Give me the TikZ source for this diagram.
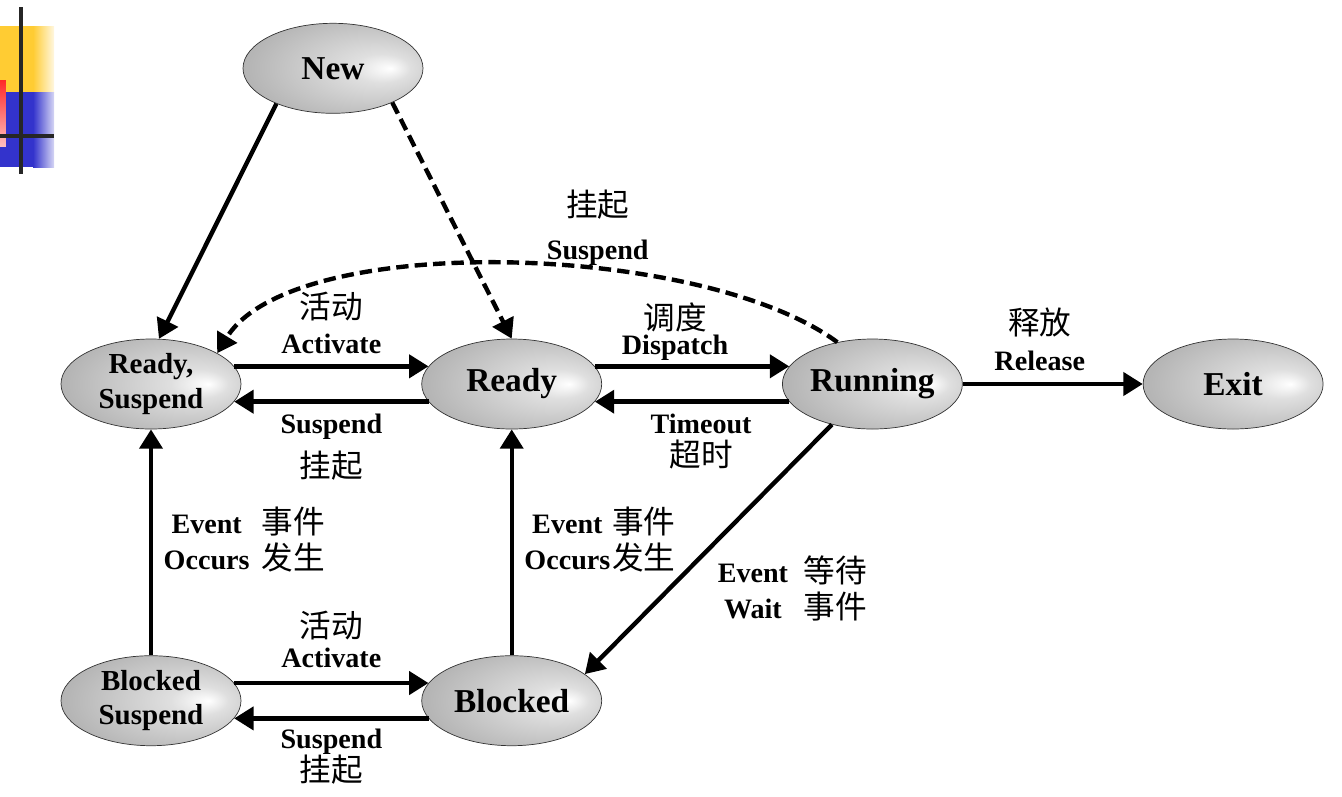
\documentclass[tikz,border=0pt]{standalone}
\usepackage{fontspec}
\setmainfont{Liberation Serif}
\newfontfamily\cjkfont{Noto Sans CJK SC}
\usepackage{tikz}
\usetikzlibrary{positioning,arrows.meta,shapes.geometric,calc}
\definecolor{decoyellow}{RGB}{255,204,51}
\definecolor{decoblue}{RGB}{51,51,204}
\definecolor{decored}{RGB}{255,40,40}
\newcommand{\zh}[1]{{\fontsize{18}{18}\selectfont\cjkfont\mdseries #1}}
\pgfdeclareradialshading{stateshade}{\pgfpoint{16bp}{0bp}}{%
  color(0bp)=(white); color(8bp)=(gray!25); color(30bp)=(gray!58);
  color(50bp)=(gray!72)}

\begin{document}
\begin{tikzpicture}[
  state/.style={ellipse, draw=black!80, thin, shading=stateshade, minimum width=3.6cm,
                minimum height=1.8cm, inner sep=0pt, align=center,
                font=\fontsize{19}{21}\selectfont\bfseries},
  state2/.style={state, font=\fontsize{16.5}{19.5}\selectfont\bfseries},
  arr/.style={-{Triangle[length=11pt,width=13pt]}, line width=2.5pt},
  darr/.style={arr, dash pattern=on 7pt off 3.5pt},
  lbl/.style={font=\fontsize{16}{17}\selectfont\bfseries, align=center, inner sep=1pt}
]
  \useasboundingbox (0,0) rectangle (26.84,-15.92);

  % Corner mark of the slide
  \fill[decoyellow] (0,-0.52) rectangle (0.66,-1.84);
  \shade[left color=decoyellow, right color=decoyellow!15] (0.66,-0.52) rectangle (1.08,-1.84);
  \fill[decoblue] (0,-1.84) rectangle (0.66,-3.34);
  \shade[left color=decoblue, right color=decoblue!20] (0.66,-1.84) rectangle (1.08,-3.34);
  \shade[top color=decored, bottom color=decored!30] (0,-1.6) rectangle (0.12,-2.92);
  \draw[line width=2.2pt, black!85] (0.42,-0.14) -- (0.42,-3.48);
  \draw[line width=2.2pt, black!85] (0,-2.72) -- (1.08,-2.72);

  % Top row: states
  \node[state2] (rsusp) at (3.02,-7.68) {Ready,\\Suspend};
  \node[state, right=3.6cm of rsusp] (ready) {Ready};
  \node[state, right=3.6cm of ready] (run) {Running};
  \node[state, right=3.6cm of run] (exit) {Exit};

  % New above
  \node[state, above=4.5cm of rsusp, xshift=3.64cm] (new) {New};

  % Bottom row: blocked states
  \node[state2, below=4.52cm of rsusp] (bsusp) {Blocked\\Suspend};
  \node[state, below=4.52cm of ready] (blocked) {Blocked};

  % Admission
  \draw[arr] (new.212) -- (rsusp.80);
  \draw[darr] (new.330) -- (ready.north);

  % Ready,Suspend <-> Ready
  \draw[arr] (rsusp.12) -- node[above=5pt, lbl] {\zh{活动}\\[3pt]Activate} (ready.168);
  \draw[arr] (ready.192) -- node[below=5pt, lbl] {Suspend\\[5pt]\zh{挂起}} (rsusp.348);

  % Ready <-> Running
  \draw[arr] (ready.12) -- node[above=1pt, lbl, xshift=-0.34cm] {\zh{调度}\\[-2.5pt]Dispatch} (run.168);
  \draw[arr] (run.192) -- node[below=5pt, lbl, xshift=0.18cm] {Timeout\\[1.5pt]\zh{超时}} (ready.348);

  % Running -> Exit
  \draw[arr] (run) -- node[above=5.5pt, lbl, xshift=-0.26cm] {\zh{释放}\\[3pt]Release} (exit);

  % Suspend from Running
  \draw[darr] (run.130) .. controls ($(run.130)+(-2.7,2.0)$) and ($(rsusp.25)+(1.5,2.45)$) .. (rsusp.25)
    node[pos=0.38, above=0pt, lbl] {\zh{挂起}\\[7pt]Suspend};

  % Event occurs
  \draw[arr] (bsusp.north) -- node[right=5pt, lbl]
    {\begin{tabular}{@{}c@{\hspace{7pt}}l@{}}Event & \zh{事件}\\ Occurs & \zh{发生}\end{tabular}} (rsusp.south);
  \draw[arr] (blocked.north) -- node[right=5pt, lbl]
    {\begin{tabular}{@{}c@{\hspace{1pt}}l@{}}Event & \zh{事件}\\ Occurs & \zh{发生}\end{tabular}} (ready.south);

  % Event wait
  \draw[arr] (run.225) -- node[pos=0.67, right=27pt, lbl]
    {\begin{tabular}{@{}c@{\hspace{9pt}}l@{}}Event & \zh{等待}\\ Wait & \zh{事件}\end{tabular}} (blocked.20);

  % Blocked,Suspend <-> Blocked
  \draw[arr] (bsusp.12) -- node[above=6.5pt, lbl] {\zh{活动}\\Activate} (blocked.168);
  \draw[arr] (blocked.192) -- node[below=3.8pt, lbl] {Suspend\\[-1pt]\zh{挂起}} (bsusp.348);
\end{tikzpicture}
\end{document}
